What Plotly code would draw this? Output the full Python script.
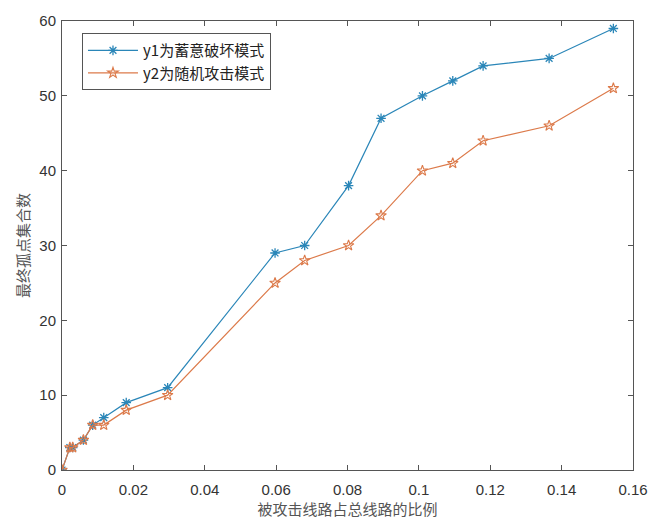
import plotly.graph_objects as go

x_vals = [0, 0.0022, 0.003, 0.006, 0.0086, 0.0117, 0.018, 0.0296, 0.0597, 0.068, 0.0803, 0.0894, 0.101, 0.1095, 0.118, 0.1365, 0.1545]
y1_vals = [0, 3, 3, 4, 6, 7, 9, 11, 29, 30, 38, 47, 50, 52, 54, 55, 59]
y2_vals = [0, 3, 3, 4, 6, 6, 8, 10, 25, 28, 30, 34, 40, 41, 44, 46, 51]
name1 = "y1为蓄意破坏模式"
name2 = "y2为随机攻击模式"
x_ticks = [0, 0.02, 0.04, 0.06, 0.08, 0.1, 0.12, 0.14, 0.16]
x_ticktext = ["0", "0.02", "0.04", "0.06", "0.08", "0.1", "0.12", "0.14", "0.16"]
y_ticks = [0, 10, 20, 30, 40, 50, 60]

blue = "#2a86b8"
orange = "#dc7a4a"

fig = go.Figure()
fig.add_trace(go.Scatter(x=x_vals, y=y1_vals, name=name1, mode="lines+markers",
                         line=dict(color=blue, width=1.2),
                         marker=dict(symbol="asterisk-open", size=8, color=blue,
                                     line=dict(color=blue, width=1.3))))
fig.add_trace(go.Scatter(x=x_vals, y=y2_vals, name=name2, mode="lines+markers",
                         line=dict(color=orange, width=1.2),
                         marker=dict(symbol="star-open", size=8, color=orange,
                                     line=dict(color=orange, width=1.1))))

axis_common = dict(showline=True, linecolor="#555", linewidth=1, mirror="ticks",
                   ticks="inside", ticklen=5, tickcolor="#555", showgrid=False,
                   zeroline=False, tickfont=dict(family="Liberation Sans, Arial", size=15, color="#333"))

fig.update_layout(
    width=660, height=527,
    margin=dict(l=62, r=20, t=14, b=57),
    paper_bgcolor="white", plot_bgcolor="white",
    xaxis=dict(range=[0, 0.16], tickvals=x_ticks, ticktext=x_ticktext,
               ticklabelstandoff=6,
               title=dict(text="被攻击线路占总线路的比例", standoff=6,
                          font=dict(family="Noto Sans CJK SC", size=15, color="#555")),
               **axis_common),
    yaxis=dict(range=[0, 60], tickvals=y_ticks, ticklabelstandoff=2,
               title=dict(text="最终孤点集合数", standoff=6,
                          font=dict(family="Noto Sans CJK SC", size=15, color="#555")),
               **axis_common),
    legend=dict(x=0.035, y=0.973, xanchor="left", yanchor="top",
                bgcolor="white", bordercolor="#555", borderwidth=1,
                font=dict(family="Noto Sans CJK SC", size=15, color="#222"),
                tracegroupgap=0, itemwidth=50),
    showlegend=True,
)

fig.write_html("out.html")
